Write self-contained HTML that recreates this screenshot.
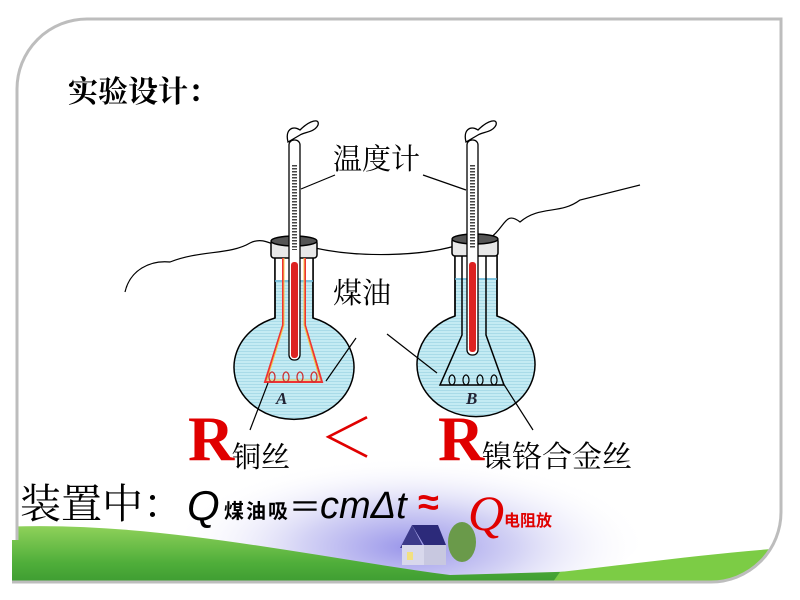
<!DOCTYPE html>
<html><head><meta charset="utf-8"><style>
html,body{margin:0;padding:0;width:800px;height:600px;overflow:hidden;background:#fff}
svg{display:block}
.cn{font-family:"Liberation Serif","Noto Serif CJK SC","Noto Sans CJK SC",serif}
</style></head><body>
<svg width="800" height="600" viewBox="0 0 800 600" xmlns="http://www.w3.org/2000/svg">
<defs>
<clipPath id="frame"><path d="M87,19 H781 V512 A70,70 0 0 1 711,582 H12 V540 L17,540 V89 A70,70 0 0 1 87,19 Z"/></clipPath>
<radialGradient id="sky" cx="0.5" cy="0.65" r="0.5">
<stop offset="0" stop-color="#9a96ea"/><stop offset="0.45" stop-color="#d4d3f5"/><stop offset="1" stop-color="#ffffff" stop-opacity="0"/>
</radialGradient>
<linearGradient id="grass" x1="0" y1="0" x2="0" y2="1">
<stop offset="0" stop-color="#8fd15a"/><stop offset="0.5" stop-color="#4fae3a"/><stop offset="1" stop-color="#2f8c2a"/>
</linearGradient>
<pattern id="water" width="4" height="3" patternUnits="userSpaceOnUse">
<rect width="4" height="3" fill="#c4ebf3"/><rect width="4" height="1" fill="#a9dbe8"/>
</pattern>
</defs>
<g clip-path="url(#frame)">
<rect x="0" y="0" width="800" height="600" fill="#fff"/>
<ellipse cx="410" cy="520" rx="240" ry="90" fill="url(#sky)"/>
<path d="M0,527 C150,520 300,555 450,575 L800,565 L800,600 L0,600 Z" fill="url(#grass)"/>
<path d="M560,572 C650,562 720,552 800,547 L800,600 L540,600 Z" fill="#7ccc45"/>
<!-- house -->
<polygon points="400,548 412,525 424,548" fill="#3c3a8a"/>
<rect x="402" y="545" width="32" height="20" fill="#d8d8ec"/>
<polygon points="412,525 438,525 446,545 424,545" fill="#2c2a7a"/>
<rect x="424" y="545" width="22" height="20" fill="#c8c8e0"/>
<rect x="407" y="552" width="6" height="8" fill="#f2e080"/>
<ellipse cx="462" cy="542" rx="14" ry="20" fill="#6a9a4a"/>
</g>
<path d="M87,19 H781 V512 A70,70 0 0 1 711,582 H12" fill="none" stroke="#bdbdbd" stroke-width="3"/>
<path d="M17,540 V89 A70,70 0 0 1 87,19" fill="none" stroke="#bdbdbd" stroke-width="3"/>

<rect x="215" y="118" width="345" height="330" fill="#fff"/>

<path d="M125,292 C130,270 150,260 170,262 C200,250 230,255 250,243 C260,238 268,242 275,245" fill="none" stroke="#000" stroke-width="1.2"/>
<path d="M315,248 C360,258 420,256 455,246" fill="none" stroke="#000" stroke-width="1.2"/>
<path d="M490,238 C505,228 505,210 520,222 C540,205 560,215 580,200 C600,195 620,190 640,185" fill="none" stroke="#000" stroke-width="1.2"/>

<g stroke="#000" stroke-width="1.5">
<path d="M275,258 V318 A60,52 0 1 0 313,318 V258 Z" fill="url(#water)"/>
<rect x="275" y="258" width="38" height="22" fill="#fff" stroke="none"/>
<path d="M275,258 V318 M313,258 V318" fill="none"/>
<rect x="271" y="240" width="46" height="18" rx="3" fill="#e8e8e8"/>
<ellipse cx="294" cy="241" rx="23" ry="5" fill="#555"/>
</g>
<line x1="275" y1="281" x2="313" y2="281" stroke="#6cb8d8" stroke-width="1.5"/>
<path d="M283,258 V325 L265,382 H322 L305,325 V258" fill="none" stroke="#e33" stroke-width="2"/>
<path d="M284,258 V325 L267,380 H320 L304,325 V258" fill="none" stroke="#f2c84a" stroke-width="1"/>
<g fill="none" stroke="#c33" stroke-width="1.3"><ellipse cx="272" cy="377" rx="3" ry="5"/><ellipse cx="286" cy="377" rx="3" ry="5"/><ellipse cx="300" cy="377" rx="3" ry="5"/><ellipse cx="314" cy="377" rx="3" ry="5"/></g>
<rect x="289" y="140" width="11" height="220" rx="5" fill="#fff" stroke="#000" stroke-width="1.3"/>
<line x1="294.5" y1="165" x2="294.5" y2="250" stroke="#444" stroke-width="5" stroke-dasharray="1.5 1.5"/>
<rect x="291" y="262" width="7" height="96" rx="3" fill="#d22"/>
<path d="M288,142 C285,130 292,125 300,130 C310,120 320,118 318,125 C315,132 305,132 300,135 Z" fill="#fff" stroke="#000" stroke-width="1.3"/>
<text x="276" y="404" font-family="Liberation Serif,serif" font-style="italic" font-weight="bold" font-size="17" fill="#223">A</text>

<g stroke="#000" stroke-width="1.5">
<path d="M455,256 V316 A59,52 0 1 0 497,316 V256 Z" fill="url(#water)"/>
<rect x="455" y="256" width="42" height="22" fill="#fff" stroke="none"/>
<path d="M455,256 V316 M497,256 V316" fill="none"/>
<rect x="452" y="238" width="46" height="18" rx="3" fill="#e8e8e8"/>
<ellipse cx="475" cy="239" rx="23" ry="5" fill="#555"/>
</g>
<line x1="455" y1="279" x2="497" y2="279" stroke="#6cb8d8" stroke-width="1.5"/>
<path d="M462,256 V335 L440,385 H504 L486,335 V256" fill="none" stroke="#000" stroke-width="1.5"/>
<g fill="none" stroke="#000" stroke-width="1.2"><ellipse cx="452" cy="380" rx="3" ry="5"/><ellipse cx="466" cy="380" rx="3" ry="5"/><ellipse cx="480" cy="380" rx="3" ry="5"/><ellipse cx="494" cy="380" rx="3" ry="5"/></g>
<rect x="467" y="140" width="11" height="215" rx="5" fill="#fff" stroke="#000" stroke-width="1.3"/>
<line x1="472.5" y1="165" x2="472.5" y2="248" stroke="#444" stroke-width="5" stroke-dasharray="1.5 1.5"/>
<rect x="469" y="262" width="7" height="90" rx="3" fill="#d22"/>
<path d="M466,142 C463,130 470,125 478,130 C488,120 498,118 496,125 C493,132 483,132 478,135 Z" fill="#fff" stroke="#000" stroke-width="1.3"/>
<text x="466" y="404" font-family="Liberation Serif,serif" font-style="italic" font-weight="bold" font-size="17" fill="#223">B</text>

<g stroke="#000" stroke-width="1.2">
<line x1="301" y1="189" x2="335" y2="175"/>
<line x1="423" y1="175" x2="466" y2="190"/>
<line x1="356" y1="338" x2="326" y2="381"/>
<line x1="387" y1="334" x2="437" y2="373"/>
<line x1="268" y1="383" x2="250" y2="430"/>
<line x1="503" y1="383" x2="533" y2="430"/>
</g>

<text x="68" y="102" class="cn" font-size="30" font-weight="bold" fill="#000">实验设计：</text>
<text x="333" y="169" class="cn" font-size="29" fill="#000">温度计</text>
<text x="333" y="303" class="cn" font-size="29" fill="#000">煤油</text>
<text x="188" y="460" font-family="Liberation Serif,serif" font-weight="bold" font-size="64" fill="#e00000">R</text>
<text x="232" y="467" class="cn" font-size="29" fill="#000">铜丝</text>
<text x="320" y="457" font-family="'Noto Sans CJK SC',sans-serif" font-weight="300" font-size="54" fill="#e00000">＜</text>
<text x="438" y="460" font-family="Liberation Serif,serif" font-weight="bold" font-size="64" fill="#e00000">R</text>
<text x="482" y="467" class="cn" font-size="30" fill="#000">镍铬合金丝</text>
<text x="20" y="518" class="cn" font-size="41" fill="#000">装置中：</text>
<text x="187" y="520" font-family="Liberation Sans,sans-serif" font-style="italic" font-size="42" fill="#000">Q</text>
<text x="224" y="518" font-family="'Liberation Sans','Noto Sans CJK SC',sans-serif" font-weight="bold" font-size="20" fill="#000" textLength="64">煤油吸</text>
<text x="289" y="518" font-family="'Noto Sans CJK SC',sans-serif" font-size="32" fill="#000">＝</text>
<text x="320" y="518" font-family="Liberation Sans,sans-serif" font-style="italic" font-size="38" fill="#000">cmΔt</text>
<text x="418" y="515" font-family="Liberation Sans,sans-serif" font-weight="bold" font-size="38" fill="#e00000">≈</text>
<text x="468" y="530" font-family="Liberation Serif,serif" font-style="italic" font-size="50" fill="#e00000">Q</text>
<text x="504" y="526" font-family="'Liberation Sans','Noto Sans CJK SC',sans-serif" font-weight="bold" font-size="16" fill="#e00000">电阻放</text>
</svg>
</body></html>
